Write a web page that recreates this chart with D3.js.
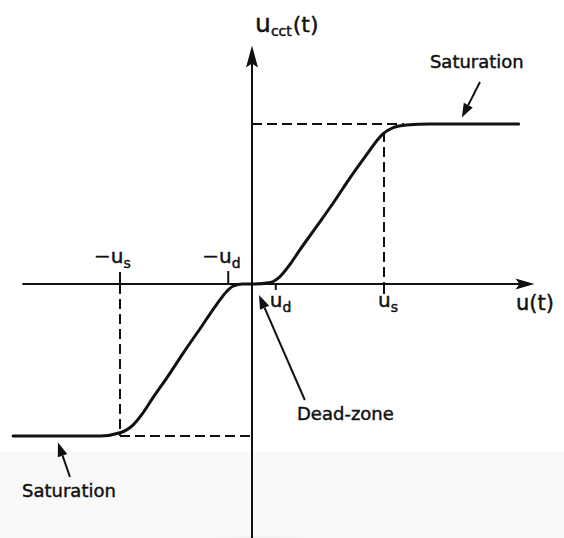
<!DOCTYPE html>
<html>
<head>
<meta charset="utf-8">
<script src="https://cdn.jsdelivr.net/npm/d3@7/dist/d3.min.js"></script>
<style>
  html, body { margin: 0; padding: 0; background: #fff; }
  svg { display: block; }
  text { font-family: "DejaVu Sans", sans-serif; fill: #111; stroke: #111; stroke-width: 0.45px; }
</style>
</head>
<body>
<svg id="chart" width="564" height="538"></svg>
<script>
// Controller output characteristic with dead-zone and saturation.
// Input u is measured in units of u_s, output u_cct in units of the upper saturation level.
const uIn  = [-1.81, -1.15, -1.00, -0.90, -0.83, -0.75, -0.64, -0.52, -0.39, -0.27, -0.19, -0.14, -0.07, 0.00,
               0.14, 0.21, 0.29, 0.36, 0.49, 0.61, 0.74, 0.87, 0.95, 0.99, 1.07, 1.17, 1.35, 2.02];
const uOut = [-0.95, -0.95, -0.93, -0.88, -0.81, -0.71, -0.58, -0.43, -0.275, -0.13, -0.045, -0.012, 0.00, 0.00,
               0.01, 0.045, 0.125, 0.21, 0.36, 0.50, 0.66, 0.81, 0.90, 0.937, 0.977, 0.994, 1.00, 1.00];

const uS = 1.0;          // saturation threshold on the input
const uD = 0.18;         // dead-zone half width
const satHigh = 1.0;     // upper saturation level
const satLow = -0.95;    // lower saturation level

// axis extents (data units)
const xAxisExtent = [-1.74, 2.14];
const yAxisExtent = [-1.62, 1.49];

// tick labels on the input axis
const tickLabels = [
  { value: -uS, sign: "-", main: "u", sub: "s", above: true },
  { value: -uD, sign: "-", main: "u", sub: "d", above: true },
  { value:  uD, sign: "",  main: "u", sub: "d", above: false },
  { value:  uS, sign: "",  main: "u", sub: "s", above: false }
];

// callouts: label anchor and arrow (from -> tip), in data units
const annotations = [
  { text: "Saturation", lx: 1.348, ly: 1.35,   from: [1.727, 1.2625], tip: [1.59, 1.04] },
  { text: "Saturation", lx: -1.742, ly: -1.331, from: [-1.379, -1.206], tip: [-1.47, -0.99] },
  { text: "Dead-zone",  lx: 0.341, ly: -0.85,  from: [0.40, -0.725],  tip: [0.053, -0.069] }
];

const svg = d3.select("#chart");
const x = d3.scaleLinear().domain([0, 1]).range([252, 384]);
const y = d3.scaleLinear().domain([0, 1]).range([284, 124]);

// faint paper shading near the bottom
const defs = svg.append("defs");
const grad = defs.append("radialGradient").attr("id", "shade");
grad.append("stop").attr("offset", "0%").attr("stop-color", "#d6d6d6");
grad.append("stop").attr("offset", "70%").attr("stop-color", "#e8e8e8");
grad.append("stop").attr("offset", "100%").attr("stop-color", "#f8f8f8").attr("stop-opacity", 0);
svg.append("rect").attr("x", 0).attr("y", 452).attr("width", 564).attr("height", 86).attr("fill", "#f9f9f9");
svg.append("ellipse").attr("cx", 262).attr("cy", 552).attr("rx", 90).attr("ry", 18).attr("fill", "url(#shade)");

// axes
const ink = "#111";
svg.append("line")
  .attr("x1", x(xAxisExtent[0])).attr("x2", x(xAxisExtent[1]) - 10)
  .attr("y1", y(0)).attr("y2", y(0))
  .attr("stroke", ink).attr("stroke-width", 2);
svg.append("line")
  .attr("x1", x(0)).attr("x2", x(0))
  .attr("y1", y(yAxisExtent[0])).attr("y2", y(yAxisExtent[1]) + 12)
  .attr("stroke", ink).attr("stroke-width", 2);

// arrowheads on the axes
const xTip = [x(xAxisExtent[1]), y(0)];
svg.append("path")
  .attr("d", `M${xTip[0]},${xTip[1]} L${xTip[0] - 19},${xTip[1] - 5.5} L${xTip[0] - 15},${xTip[1]} L${xTip[0] - 19},${xTip[1] + 5.5} Z`)
  .attr("fill", ink);
const yTip = [x(0), y(yAxisExtent[1])];
svg.append("path")
  .attr("d", `M${yTip[0]},${yTip[1]} L${yTip[0] - 6},${yTip[1] + 22} L${yTip[0]},${yTip[1] + 18} L${yTip[0] + 6},${yTip[1] + 22} Z`)
  .attr("fill", ink);

// dashed guide lines
const dash = "10,5";
const guides = [
  [[0, satHigh], [uS + 0.15, satHigh]],
  [[-uS, satLow], [0, satLow]],
  [[uS, satHigh - 0.05], [uS, 0]],
  [[-uS, 0], [-uS, satLow]]
];
svg.selectAll("line.guide").data(guides).enter().append("line")
  .attr("class", "guide")
  .attr("x1", d => x(d[0][0])).attr("y1", d => y(d[0][1]))
  .attr("x2", d => x(d[1][0])).attr("y2", d => y(d[1][1]))
  .attr("stroke", ink).attr("stroke-width", 2).attr("stroke-dasharray", dash);

// short ticks on the input axis
const ticks = [
  { value: -uS, len: -12 }, { value: -uD, len: -13 },
  { value: uD, len: 6 },   { value: uS, len: 10 }
];
svg.selectAll("line.tick").data(ticks).enter().append("line")
  .attr("class", "tick")
  .attr("x1", d => x(d.value)).attr("x2", d => x(d.value))
  .attr("y1", y(0)).attr("y2", d => y(0) + d.len)
  .attr("stroke", ink).attr("stroke-width", 2);

// characteristic curve
const pts = uIn.map((u, i) => [u, uOut[i]]);
const line = d3.line().x(d => x(d[0])).y(d => y(d[1])).curve(d3.curveMonotoneX);
svg.append("path").datum(pts)
  .attr("d", line)
  .attr("fill", "none").attr("stroke", ink).attr("stroke-width", 3)
  .attr("stroke-linejoin", "round").attr("stroke-linecap", "round");

// tick labels
tickLabels.forEach(t => {
  const tx = t.sign ? x(t.value) - 26 : x(t.value) - 6;
  const ty = t.above ? y(0) - 21 : y(0) + 23;
  const txt = svg.append("text").attr("x", tx).attr("y", ty).attr("font-size", 20);
  if (t.sign) txt.append("tspan").text("\u2212");
  txt.append("tspan").text(t.main);
  txt.append("tspan").attr("font-size", 14).attr("dy", 5).text(t.sub);
});

// axis titles
const yTitle = svg.append("text").attr("x", x(0.023)).attr("y", y(1.575));
yTitle.append("tspan").attr("font-size", 25).text("u");
yTitle.append("tspan").attr("font-size", 14).attr("dy", 4).text("cct");
yTitle.append("tspan").attr("font-size", 22).attr("dy", -4).attr("dx", 1).text("(t)");

svg.append("text").attr("x", x(2.0)).attr("y", y(-0.1625))
  .attr("font-size", 21).text("u(t)");

// callouts
annotations.forEach(a => {
  svg.append("text").attr("x", x(a.lx)).attr("y", y(a.ly))
    .attr("font-size", 18).text(a.text);
  const fx = x(a.from[0]), fy = y(a.from[1]);
  const tx = x(a.tip[0]), ty = y(a.tip[1]);
  const ang = Math.atan2(ty - fy, tx - fx);
  const L = 14, W = 5;
  const bx = tx - L * Math.cos(ang), by = ty - L * Math.sin(ang);
  svg.append("line").attr("x1", fx).attr("y1", fy).attr("x2", bx).attr("y2", by)
    .attr("stroke", ink).attr("stroke-width", 2);
  const px = -Math.sin(ang) * W, py = Math.cos(ang) * W;
  svg.append("path")
    .attr("d", `M${tx},${ty} L${bx + px},${by + py} L${bx - px},${by - py} Z`)
    .attr("fill", ink);
});
</script>
</body>
</html>
